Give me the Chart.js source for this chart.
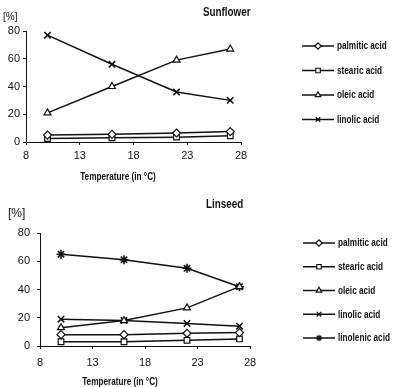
<!DOCTYPE html>
<html>
<head>
<meta charset="utf-8">
<script src="https://cdn.jsdelivr.net/npm/chart.js@4/dist/chart.umd.min.js"></script>
<style>
body { margin: 0; background: #fff; width: 400px; height: 387px; position: relative; overflow: hidden; }
.box { position: absolute; left: 0; width: 400px; }
</style>
</head>
<body>
<div class="box" style="top:0;height:190px"><canvas id="sun"></canvas></div>
<div class="box" style="top:190px;height:197px"><canvas id="lin"></canvas></div>
<script>
// temperatures (°C) of the four sowing dates
const temps = [10, 16, 22, 27];
const xTicks = [8, 13, 18, 23, 28];

// Sunflower, fatty acid content [%]
const sunPalmitic = [5, 5.5, 6.5, 7.5];
const sunStearic = [2.5, 3, 3.5, 4.5];
const sunOleic = [21, 40, 59, 67];
const sunLinolic = [77, 56, 36, 30];

// Linseed
const linPalmitic = [8, 8, 9, 9.5];
const linStearic = [3, 3, 4, 5];
const linOleic = [13, 18, 27, 42];
const linLinolic = [19, 18, 16, 14];
const linLinolenic = [65, 61, 55, 42];

const acidNames = ['palmitic acid', 'stearic acid', 'oleic acid', 'linolic acid', 'linolenic acid'];
const markers = ['rectRot', 'rect', 'triangle', 'crossRot', 'star'];

const ink = '#111';
const sans = '"Liberation Sans", Arial, sans-serif';

function drawMark(c, style, x, y, r) {
  if (Chart.helpers && Chart.helpers.drawPoint) {
    Chart.helpers.drawPoint(c, { pointStyle: style, radius: r, borderWidth: 1.2, rotation: 0 }, x, y);
  }
}

// no condensed face installed, so squeeze the text horizontally
function narrowText(c, txt, x, y, align) {
  c.save();
  c.translate(x, y);
  c.scale(0.82, 1);
  c.textAlign = align;
  c.fillText(txt, 0, 0);
  c.restore();
}

// titles, "[%]", axis title and the line+marker legend
const decor = {
  id: 'decor',
  afterDraw(chart, args, o) {
    const c = chart.ctx;
    c.save();
    c.fillStyle = ink;
    c.textBaseline = 'middle';
    c.textAlign = 'left';
    c.font = 'bold 12px ' + sans;
    narrowText(c, o.title, o.titleX, o.titleY, 'left');
    c.font = o.pctFont;
    c.fillText('[%]', o.pctX, o.pctY);
    c.font = 'bold 10px ' + sans;
    narrowText(c, 'Temperature (in °C)', o.axisX, o.axisY, 'center');

    chart.data.datasets.forEach((ds, i) => {
      const y = o.legY + i * o.legStep;
      c.strokeStyle = ink;
      c.lineWidth = 1.5;
      c.beginPath();
      c.moveTo(o.legX, y);
      c.lineTo(o.legX + 32, y);
      c.stroke();
      c.fillStyle = '#fff';
      c.lineWidth = 1.2;
      drawMark(c, ds.pointStyle, o.legX + 16, y, 3.2);
      c.fillStyle = ink;
      narrowText(c, ds.label, o.legX + 35, y + 0.5, 'left');
    });
    c.restore();
  }
};

function makeSets(series) {
  return series.map((vals, i) => ({
    label: acidNames[i],
    data: temps.map((t, k) => ({ x: t, y: vals[k] })),
    borderColor: ink,
    borderWidth: 1.5,
    pointStyle: markers[i],
    pointRadius: i >= 3 ? 4.5 : 4,
    pointBorderWidth: i >= 3 ? 1.6 : 1.2,
    pointBackgroundColor: '#fff',
    pointBorderColor: ink,
    tension: 0
  }));
}

function makeChart(id, series, g) {
  new Chart(document.getElementById(id), {
    type: 'line',
    data: { datasets: makeSets(series) },
    plugins: [decor],
    options: {
      responsive: true,
      maintainAspectRatio: false,
      animation: false,
      clip: false,
      layout: { padding: { left: 0, right: 400 - g.right, top: g.top, bottom: 0 } },
      plugins: { legend: { display: false }, tooltip: { enabled: false }, decor: g.decor },
      scales: {
        x: {
          type: 'linear',
          min: 8, max: 28,
          afterBuildTicks: (s) => { s.ticks = xTicks.map(v => ({ value: v })); },
          afterFit: (s) => { s.height = g.xh; },
          grid: { drawOnChartArea: false, tickLength: 3, color: ink },
          border: { display: true, color: ink, width: 1 },
          ticks: { color: ink, font: { family: sans, size: 11 }, padding: g.xpad, maxRotation: 0 }
        },
        y: {
          min: 0, max: 80,
          ticks: { stepSize: 20, color: ink, font: { family: sans, size: 11 }, padding: g.ypad },
          afterFit: (s) => { s.width = g.left; },
          grid: { drawOnChartArea: false, tickLength: 3, color: ink },
          border: { display: true, color: ink, width: 1 }
        }
      }
    }
  });
}

makeChart('sun', [sunPalmitic, sunStearic, sunOleic, sunLinolic], {
  left: 26, right: 241, top: 31, xh: 48, xpad: 4, ypad: 3,
  decor: {
    title: 'Sunflower', titleX: 203, titleY: 13,
    pctFont: '10px ' + sans, pctX: 3, pctY: 17,
    axisX: 118, axisY: 177,
    legX: 302, legY: 46, legStep: 24.5
  }
});

makeChart('lin', [linPalmitic, linStearic, linOleic, linLinolic, linLinolenic], {
  left: 40, right: 250, top: 43, xh: 41, xpad: 7, ypad: 7,
  decor: {
    title: 'Linseed', titleX: 206, titleY: 15,
    pctFont: '12px ' + sans, pctX: 8, pctY: 24,
    axisX: 120, axisY: 192,
    legX: 303, legY: 53, legStep: 23.75
  }
});
</script>
</body>
</html>
